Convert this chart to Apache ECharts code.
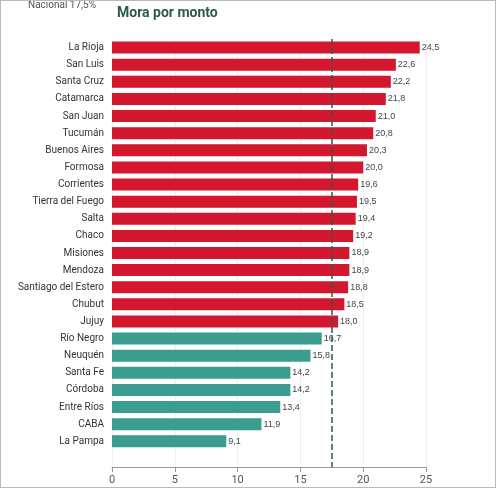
<!DOCTYPE html>
<html><head><meta charset="utf-8">
<script src="https://cdn.jsdelivr.net/npm/echarts@6/dist/echarts.min.js"></script>
<style>html,body{margin:0;padding:0;background:#fff}#c{width:494px;height:486px;border:1px solid #bbb}</style>
</head><body><div id="c"></div>
<script>
var provincias = ['La Rioja','San Luis','Santa Cruz','Catamarca','San Juan','Tucumán','Buenos Aires','Formosa','Corrientes','Tierra del Fuego','Salta','Chaco','Misiones','Mendoza','Santiago del Estero','Chubut','Jujuy','Río Negro','Neuquén','Santa Fe','Córdoba','Entre Ríos','CABA','La Pampa'];
var mora = [24.5,22.6,22.2,21.8,21.0,20.8,20.3,20.0,19.6,19.5,19.4,19.2,18.9,18.9,18.8,18.5,18.0,16.7,15.8,14.2,14.2,13.4,11.9,9.1];
var nacional = 17.5;
var rojo = '#d3172f', verde = '#3a9d8f';

var chart = echarts.init(document.getElementById('c'));
var cats = provincias.concat(['']);
chart.setOption({
    animation: false,
    title: {text: 'Mora por monto', left: 111, top: 0,
        textStyle: {color: '#2e5a4a', fontSize: 14, fontWeight: 'bold', fontFamily: 'Roboto'}},
    grid: {left: 111, right: 69, top: 38, bottom: 20},
    legend: {left: 330, top: 444, itemWidth: 22, itemHeight: 8, icon: 'path://M0,0',
        textStyle: {color: '#555', fontSize: 10, fontFamily: 'Roboto'},
        data: [{name: 'Nacional 17,5%', itemStyle: {opacity: 0}, lineStyle: {type: 'dashed', color: '#2e5a4a', width: 1.5}}]},
    xAxis: {type: 'value', min: 0, max: 25, interval: 5,
        axisLine: {show: true, lineStyle: {color: '#999'}},
        axisTick: {show: true, lineStyle: {color: '#999'}},
        axisLabel: {color: '#555', fontSize: 11, fontFamily: 'Roboto'},
        splitLine: {lineStyle: {color: '#eee'}}},
    yAxis: {type: 'category', data: cats, inverse: true,
        axisLine: {show: false}, axisTick: {show: false},
        axisLabel: {color: '#333', fontSize: 10, fontFamily: 'Roboto', margin: 8}},
    series: [{
        type: 'bar', barWidth: 12,
        data: mora.map(function (v) {
            return {value: v, itemStyle: {color: v >= nacional ? rojo : verde}};
        }),
        label: {show: true, position: 'right', distance: 2, fontSize: 9, color: '#444',
            formatter: function (p) { return p.value.toFixed(1).replace('.', ','); }},
        markLine: {symbol: 'none', silent: true, label: {show: false},
            lineStyle: {type: 'dashed', color: '#2e5a4a', width: 1.5},
            data: [{xAxis: nacional}]}
    }, {
        name: 'Nacional 17,5%', type: 'line', data: [],
        lineStyle: {type: 'dashed', color: '#2e5a4a', width: 1.5}
    }]
});
</script></body></html>
